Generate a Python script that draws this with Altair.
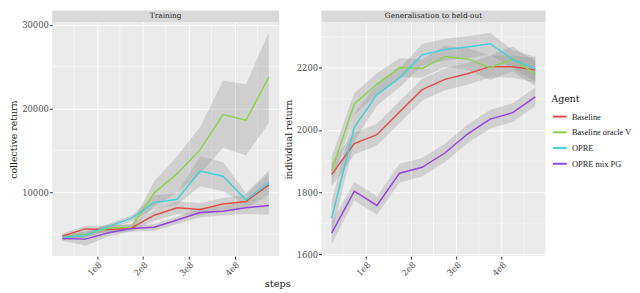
import altair as alt
import pandas as pd

steps = [0.25e8, 0.75e8, 1.25e8, 1.75e8, 2.25e8, 2.75e8, 3.25e8, 3.75e8, 4.25e8, 4.75e8]
agents = ["Baseline", "Baseline oracle V", "OPRE", "OPRE mix PG"]
colors = ["#E34E4A", "#8ED24C", "#43D0DA", "#9442E3"]

# Training (collective return)
train_baseline = [4770, 5610, 5530, 5720, 7250, 8130, 7940, 8590, 8890, 10880]
train_baseline_lo = [4400, 5200, 5100, 5300, 6600, 7400, 7200, 7900, 8100, 9600]
train_baseline_hi = [5100, 6000, 6000, 6200, 7900, 8900, 8700, 9300, 9700, 12200]
train_oracle = [4580, 4960, 5720, 5800, 9920, 12210, 15080, 19280, 18590, 23740]
train_oracle_lo = [4300, 4600, 5300, 5500, 8300, 10000, 12200, 15300, 14400, 18300]
train_oracle_hi = [4900, 5300, 6100, 6100, 11300, 14300, 17800, 23300, 22900, 29100]
train_opre = [4580, 4850, 5920, 6870, 8780, 9160, 12520, 11910, 9080, 11150]
train_opre_lo = [4300, 4500, 5600, 6500, 8000, 8500, 10700, 10100, 8600, 9700]
train_opre_hi = [4900, 5200, 6200, 7200, 9600, 9900, 14300, 13600, 9900, 12600]
train_mixpg = [4470, 4390, 5150, 5650, 5800, 6680, 7560, 7710, 8130, 8400]
train_mixpg_lo = [4200, 3600, 4700, 5300, 5400, 6200, 7000, 7200, 7400, 7300]
train_mixpg_hi = [4700, 5100, 5600, 6000, 6200, 7100, 8100, 8300, 8900, 9500]

# Generalisation (individual return)
gen_baseline = [1857, 1956, 1985, 2058, 2130, 2163, 2181, 2204, 2204, 2193]
gen_baseline_lo = [1817, 1921, 1950, 2023, 2095, 2128, 2146, 2169, 2169, 2153]
gen_baseline_hi = [1897, 1991, 2020, 2093, 2165, 2198, 2216, 2239, 2239, 2233]
gen_oracle = [1869, 2084, 2148, 2201, 2198, 2237, 2229, 2201, 2229, 2181]
gen_oracle_lo = [1824, 2049, 2113, 2171, 2168, 2202, 2194, 2161, 2189, 2141]
gen_oracle_hi = [1914, 2119, 2183, 2231, 2228, 2272, 2264, 2241, 2269, 2221]
gen_opre = [1716, 2009, 2114, 2168, 2242, 2259, 2267, 2278, 2227, 2196]
gen_opre_lo = [1661, 1964, 2079, 2138, 2207, 2224, 2232, 2243, 2197, 2156]
gen_opre_hi = [1771, 2054, 2149, 2198, 2277, 2294, 2302, 2313, 2257, 2236]
gen_mixpg = [1668, 1803, 1757, 1861, 1880, 1926, 1987, 2035, 2056, 2107]
gen_mixpg_lo = [1633, 1773, 1727, 1831, 1850, 1896, 1957, 2005, 2026, 2077]
gen_mixpg_hi = [1703, 1833, 1787, 1891, 1910, 1956, 2017, 2065, 2086, 2137]

x_major = [1e8, 2e8, 3e8, 4e8]
x_minor = [0.5e8, 1.5e8, 2.5e8, 3.5e8, 4.5e8]
train_y_major = [10000, 20000, 30000]
train_y_minor = [5000, 15000, 25000]
gen_y_major = [1600, 1800, 2000, 2200]
gen_y_minor = [1700, 1900, 2100, 2300]


def build(series):
    rows = []
    for agent, (m, lo, hi) in zip(agents, series):
        for s, a, b, c in zip(steps, m, lo, hi):
            rows.append({"step": s, "agent": agent, "mean": a, "lo": b, "hi": c})
    return pd.DataFrame(rows)


df_train = build([
    (train_baseline, train_baseline_lo, train_baseline_hi),
    (train_oracle, train_oracle_lo, train_oracle_hi),
    (train_opre, train_opre_lo, train_opre_hi),
    (train_mixpg, train_mixpg_lo, train_mixpg_hi),
])
df_gen = build([
    (gen_baseline, gen_baseline_lo, gen_baseline_hi),
    (gen_oracle, gen_oracle_lo, gen_oracle_hi),
    (gen_opre, gen_opre_lo, gen_opre_hi),
    (gen_mixpg, gen_mixpg_lo, gen_mixpg_hi),
])

FONT = "DejaVu Serif"
H = 238
STRIP = 12


def panel(df, label, W, ydom, ymajor, yminor, ytitle, xtitle):
    xaxis_kw = dict(values=x_major, labelExpr="format(datum.value/1e8,'d') + 'e8'",
                    labelAngle=-45, title=None)
    if xtitle:
        xaxis_kw.update(title=xtitle, titleX=W - 2, titleY=31, titleAlign="center",
                        titleBaseline="alphabetic", titleFontSize=10)
    xscale = alt.Scale(domain=[0.025e8, 4.975e8], nice=False, zero=False)
    yscale = alt.Scale(domain=ydom, nice=False, zero=False)
    x = alt.X("step:Q", scale=xscale, axis=alt.Axis(**xaxis_kw))
    y_axis = alt.Axis(values=ymajor, title=ytitle, format="d")

    minor_x = alt.Chart(pd.DataFrame({"v": x_minor})).mark_rule(
        color="white", strokeWidth=0.5).encode(x=alt.X("v:Q", scale=xscale))
    minor_y = alt.Chart(pd.DataFrame({"v": yminor})).mark_rule(
        color="white", strokeWidth=0.5).encode(y=alt.Y("v:Q", scale=yscale))
    base = alt.Chart(df)
    band = base.mark_area(color="#999999", opacity=0.33).encode(
        x=x, y=alt.Y("lo:Q", scale=yscale, axis=y_axis), y2="hi:Q", detail="agent:N")
    line = base.mark_line(strokeWidth=1.5).encode(
        x=x, y=alt.Y("mean:Q", scale=yscale, axis=y_axis),
        color=alt.Color("agent:N", scale=alt.Scale(domain=agents, range=colors),
                        legend=alt.Legend(title="Agent")))
    sdf = pd.DataFrame({"label": [label]})
    strip = alt.Chart(sdf).mark_rect(color="#D9D9D9").encode(
        x=alt.value(0), x2=alt.value(W), y=alt.value(-STRIP), y2=alt.value(0))
    stext = alt.Chart(sdf).mark_text(font=FONT, fontSize=7.5, color="#1A1A1A",
                                     baseline="middle").encode(
        x=alt.value(W / 2), y=alt.value(-STRIP / 2), text="label:N")
    return alt.layer(minor_x, minor_y, band, line, strip, stext).properties(width=W, height=H)


left = panel(df_train, "Training", 231, [2360, 30300], train_y_major, train_y_minor,
             "collective return", "steps")
right = panel(df_gen, "Generalisation to held-out", 228, [1594, 2347], gen_y_major,
              gen_y_minor, "individual return", None)

chart = alt.hconcat(left, right, spacing=43, bounds="flush").properties(
    padding={"left": 0, "top": 0, "right": 0, "bottom": 0}
).configure_view(fill="#EBEBEB", stroke=None).configure_axis(
    domain=False, grid=True, gridColor="white", gridWidth=1,
    tickColor="#333333", tickSize=3, labelColor="#4D4D4D", labelFont=FONT,
    labelFontSize=8.5, labelPadding=1, titleFont=FONT, titleFontSize=9.5,
    titleFontWeight="normal", titleColor="#1A1A1A", titlePadding=3
).configure_legend(
    orient="none", legendX=508, legendY=73, titleFont=FONT, titleFontSize=9.5,
    titleFontWeight="normal", titleColor="#1A1A1A", labelFont="Liberation Serif",
    labelFontSize=8.5, labelColor="#1A1A1A", symbolType="stroke", symbolStrokeWidth=2,
    symbolSize=200, rowPadding=3, labelLimit=70
)

chart.save("out.html", embed_options={"renderer": "svg", "actions": False})
